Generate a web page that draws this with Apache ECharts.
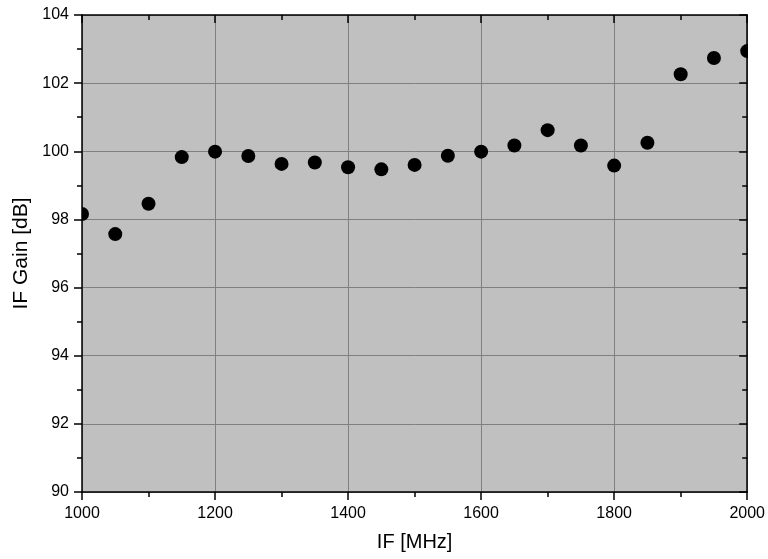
<!DOCTYPE html>
<html>
<head>
<meta charset="utf-8">
<title>IF Gain vs IF</title>
<script src="https://cdn.jsdelivr.net/npm/echarts@6/dist/echarts.min.js"></script>
<style>
  html, body { margin: 0; padding: 0; background: #fff; }
  #chart { width: 768px; height: 559px; }
</style>
</head>
<body>
<div id="chart"></div>
<script>
// IF frequency (MHz) and measured IF gain (dB)
const freqMHz = [1000, 1050, 1100, 1150, 1200, 1250, 1300, 1350, 1400, 1450, 1500,
                 1550, 1600, 1650, 1700, 1750, 1800, 1850, 1900, 1950, 2000];
const gainDb = [98.16, 97.57, 98.46, 99.83, 99.99, 99.86, 99.63, 99.67, 99.53, 99.47, 99.60,
                99.87, 99.99, 100.17, 100.62, 100.17, 99.58, 100.25, 102.26, 102.74, 102.94];

const xRange = { min: 1000, max: 2000, step: 200 };
const yRange = { min: 90, max: 104, step: 2 };
const xTitle = 'IF [MHz]';
const yTitle = 'IF Gain [dB]';

const points = freqMHz.map((f, i) => [f, gainDb[i]]);

const FONT = '"Liberation Sans", Arial, sans-serif';
const lineBlack = { color: '#000', width: 1.5 };

function axisBase(range, opposite) {
  return {
    type: 'value',
    min: range.min,
    max: range.max,
    interval: range.step,
    axisLine: { show: true, onZero: false, lineStyle: lineBlack },
    axisTick: { show: true, inside: opposite, length: 8, lineStyle: lineBlack },
    minorTick: { show: true, splitNumber: 2, length: 5, lineStyle: lineBlack },
    axisLabel: { show: !opposite },
    splitLine: { show: !opposite, lineStyle: { color: '#808080', width: 1 } },
    minorSplitLine: { show: false }
  };
}

const plainNumber = v => String(v);

const chart = echarts.init(document.getElementById('chart'), null, { renderer: 'canvas' });

chart.setOption({
  animation: false,
  backgroundColor: '#fff',
  grid: {
    left: 82, top: 15, right: 18, bottom: 67,
    show: true, backgroundColor: '#c0c0c0', borderWidth: 0
  },
  xAxis: [
    Object.assign(axisBase(xRange, false), {
      position: 'bottom',
      axisLabel: { color: '#000', fontSize: 16, fontFamily: FONT, margin: 14, formatter: plainNumber },
      name: xTitle, nameLocation: 'middle', nameGap: 40,
      nameTextStyle: { color: '#000', fontSize: 20, fontFamily: FONT }
    }),
    Object.assign(axisBase(xRange, true), { position: 'top' })
  ],
  yAxis: [
    Object.assign(axisBase(yRange, false), {
      position: 'left',
      axisLabel: { color: '#000', fontSize: 16, fontFamily: FONT, margin: 13, formatter: plainNumber },
      name: yTitle, nameLocation: 'middle', nameGap: 47,
      nameTextStyle: { color: '#000', fontSize: 21, fontFamily: FONT }
    }),
    Object.assign(axisBase(yRange, true), { position: 'right' })
  ],
  series: [{
    type: 'custom',
    xAxisIndex: 0,
    yAxisIndex: 0,
    clip: true,
    data: points,
    encode: { x: 0, y: 1 },
    renderItem: function (params, api) {
      const p = api.coord([api.value(0), api.value(1)]);
      return {
        type: 'circle',
        shape: { cx: p[0], cy: p[1], r: 7 },
        style: { fill: '#000' }
      };
    }
  }]
});
</script>
</body>
</html>
